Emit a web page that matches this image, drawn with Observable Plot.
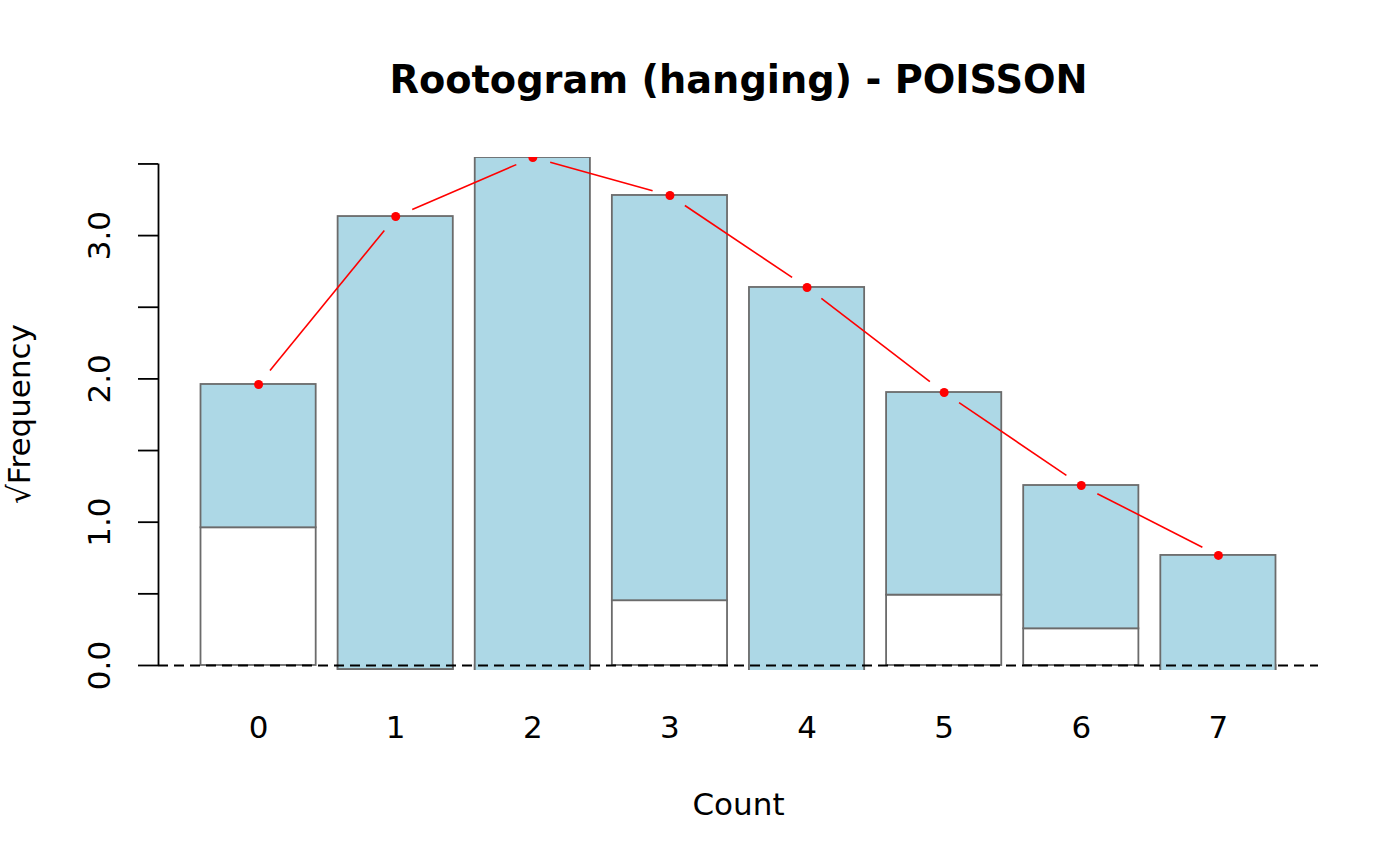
<!DOCTYPE html>
<html>
<head>
<meta charset="utf-8">
<script src="https://cdn.jsdelivr.net/npm/d3@7"></script>
<script src="https://cdn.jsdelivr.net/npm/@observablehq/plot@0.6"></script>
<style>
  html, body { margin: 0; padding: 0; background: #fff; }
  #chart svg { display: block; }
</style>
</head>
<body>
<div id="chart"></div>
<script>
// Data
const counts = [0, 1, 2, 3, 4, 5, 6, 7];
const expectedSqrt = [1.961, 3.133, 3.545, 3.280, 2.638, 1.905, 1.256, 0.768];
const observedSqrt = [1.000, 3.161, 3.606, 2.828, 2.828, 1.414, 1.000, 1.000];
const yTicks = [0, 0.5, 1, 1.5, 2, 2.5, 3, 3.5];
const yLabels = [0, 1, 2, 3];
const titleText = "Rootogram (hanging) - POISSON";
const xLabelText = "Count";
const yLabelText = "√Frequency";

const rows = counts.map((c, i) => ({
  count: c,
  top: expectedSqrt[i],
  bottom: expectedSqrt[i] - observedSqrt[i]
}));

const xDomain = [-0.73, 7.73];
const yDomain = [-0.035, 3.545];
const half = 0.42;
const font = "DejaVu Sans";
const axisFont = 31;
const barStroke = "#6b6b6b";

const segs = rows.slice(1).map((r, i) => ({
  x1: rows[i].count, y1: rows[i].top, x2: r.count, y2: r.top
}));

const chart = Plot.plot({
  width: 1400,
  height: 866,
  marginLeft: 158,
  marginRight: 82,
  marginTop: 157,
  marginBottom: 196,
  style: { fontFamily: font, background: "#fff" },
  x: { domain: xDomain, axis: null },
  y: { domain: yDomain, axis: null },
  marks: [
    // white part from 0 to bar bottom
    Plot.rect(rows, {
      x1: d => d.count - half, x2: d => d.count + half,
      y1: 0, y2: "bottom",
      fill: "white", stroke: barStroke, strokeWidth: 1.8, clip: true
    }),
    // hanging bars
    Plot.rect(rows, {
      x1: d => d.count - half, x2: d => d.count + half,
      y1: "bottom", y2: "top",
      fill: "#ADD8E6", stroke: barStroke, strokeWidth: 1.8, clip: true
    }),
    // zero reference line
    Plot.ruleY([0], { stroke: "black", strokeWidth: 1.8, strokeDasharray: "10,6" }),
    // expected line (type = "b" style, gaps around points)
    Plot.arrow(segs, {
      x1: "x1", y1: "y1", x2: "x2", y2: "y2",
      stroke: "red", strokeWidth: 1.6, headLength: 0,
      insetStart: 18, insetEnd: 18, strokeLinecap: "butt"
    }),
    Plot.dot(rows, { x: "count", y: "top", r: 4.5, fill: "red", stroke: null, clip: true }),
    // y axis
    Plot.ruleX([xDomain[0]], { y1: yTicks[0], y2: yTicks[yTicks.length - 1], stroke: "black", strokeWidth: 1.8 }),
    Plot.axisY(yTicks, { tickSize: 20, tickFormat: () => "", label: null, strokeWidth: 1.8, stroke: "black" }),
    Plot.text(yLabels, {
      y: d => d, text: d => d.toFixed(1), frameAnchor: "left",
      rotate: -90, dx: -58, textAnchor: "middle", lineAnchor: "middle",
      fontSize: axisFont, fill: "black"
    }),
    // x labels
    Plot.text(counts, {
      x: d => d, text: d => String(d), frameAnchor: "bottom",
      dy: 58, lineAnchor: "middle", fontSize: axisFont, fill: "black"
    }),
    // axis titles
    Plot.text([xLabelText], {
      frameAnchor: "bottom", dy: 135, lineAnchor: "middle", fontSize: axisFont, fill: "black"
    }),
    Plot.text([yLabelText], {
      frameAnchor: "left", dx: -138, rotate: -90, textAnchor: "middle", lineAnchor: "middle",
      fontSize: axisFont, fill: "black"
    }),
    // title
    Plot.text([titleText], {
      frameAnchor: "top", dy: -77, lineAnchor: "middle",
      fontSize: 38.3, fontWeight: "bold", fill: "black"
    })
  ]
});
document.getElementById("chart").appendChild(chart);
</script>
</body>
</html>
